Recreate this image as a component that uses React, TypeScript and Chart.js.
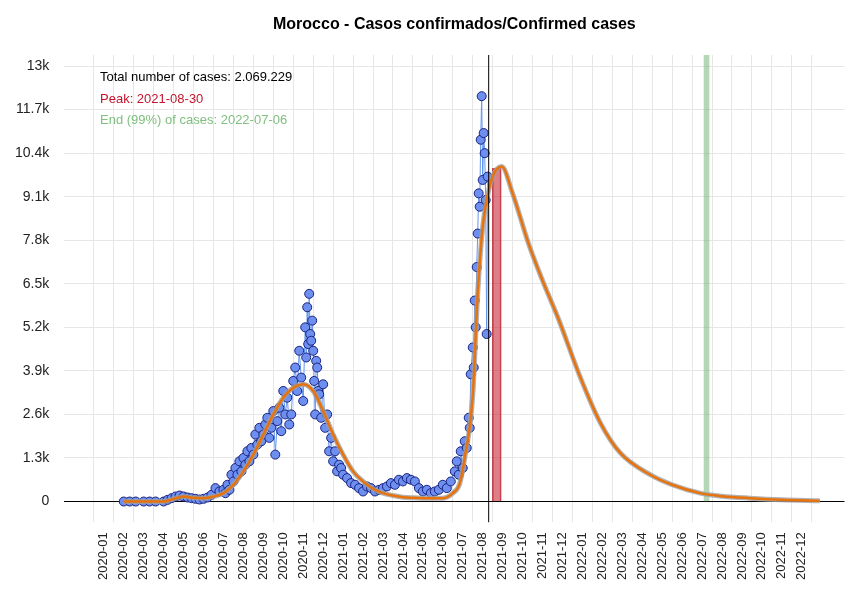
import { useEffect, useRef } from 'react';
import Chart from 'chart.js/auto';

// x values are months since 2020-01 (0 = 2020-01, 35 = 2022-12)
const monthLabels = [
  '2020-01', '2020-02', '2020-03', '2020-04', '2020-05', '2020-06', '2020-07', '2020-08', '2020-09', '2020-10', '2020-11', '2020-12',
  '2021-01', '2021-02', '2021-03', '2021-04', '2021-05', '2021-06', '2021-07', '2021-08', '2021-09', '2021-10', '2021-11', '2021-12',
  '2022-01', '2022-02', '2022-03', '2022-04', '2022-05', '2022-06', '2022-07', '2022-08', '2022-09', '2022-10', '2022-11', '2022-12',
];
const yTicks = [0, 1300, 2600, 3900, 5200, 6500, 7800, 9100, 10400, 11700, 13000];

const caseX = [
  1.0, 1.3, 1.6, 2.0, 2.3, 2.6, 3.0, 3.2, 3.4, 3.6, 3.8, 4.0, 4.2, 4.4, 4.6, 4.8, 5.0, 5.2, 5.4, 5.6, 5.8,
  6.0, 6.1, 6.2, 6.3, 6.4, 6.5, 6.6, 6.7, 6.8, 6.9, 7.0, 7.1, 7.2, 7.3, 7.4, 7.5, 7.6, 7.7, 7.8, 7.9,
  8.0, 8.1, 8.2, 8.3, 8.4, 8.5, 8.6, 8.7, 8.8, 8.9, 9.0, 9.1, 9.2, 9.3, 9.4, 9.5, 9.6, 9.7, 9.8, 9.9,
  10.0, 10.1, 10.15, 10.2, 10.25, 10.3, 10.35, 10.4, 10.45, 10.5, 10.55, 10.6, 10.65, 10.7, 10.75, 10.8, 10.9,
  11.0, 11.1, 11.2, 11.3, 11.4, 11.5, 11.6, 11.7, 11.8, 11.9, 12.0, 12.2, 12.4, 12.6, 12.8,
  13.0, 13.2, 13.4, 13.6, 13.8, 14.0, 14.2, 14.4, 14.6, 14.8, 15.0, 15.2, 15.4, 15.6, 15.8, 16.0, 16.2, 16.4, 16.6, 16.8,
  17.0, 17.2, 17.4, 17.6, 17.7, 17.8, 17.9, 18.0, 18.1, 18.2, 18.3, 18.35, 18.4, 18.5, 18.55, 18.6, 18.65, 18.7,
  18.75, 18.8, 18.85, 18.9, 18.95, 19.0, 19.05, 19.1, 19.15, 19.2, 19.25,
];
const caseY = [
  0, 0, 0, 0, 0, 0, 0, 50, 100, 150, 180, 150, 120, 100, 80, 60, 80, 120, 200, 400, 300,
  350, 250, 500, 350, 800, 600, 1000, 800, 1200, 900, 1300, 1100, 1500, 1200, 1600, 1400, 2000, 1700, 2200, 1800,
  2000, 2300, 2500, 1900, 2200, 2700, 1400, 2400, 2800, 2100, 3300, 2600, 3100, 2300, 2600, 3600, 4000, 3300, 4500, 3700,
  3000, 5200, 4300, 5800, 4700, 6200, 5000, 4800, 5400, 4500, 3600, 2600, 4200, 4000, 3300, 3200, 2500,
  3500, 2200, 2600, 1500, 1900, 1200, 1500, 900, 1100, 1000, 800, 700, 550, 500, 400,
  300, 450, 400, 300, 350, 400, 450, 550, 500, 650, 600, 700, 650, 600, 400, 300, 350, 250, 300, 350,
  500, 400, 600, 900, 1200, 800, 1500, 1000, 1800, 1600, 2500, 2200, 3800, 4600, 4000, 6000, 5200, 7000,
  8000, 9200, 8800, 10800, 12100, 9600, 11000, 10400, 9000, 5000, 9700,
];

const fitX = [
  1, 3, 3.5, 4, 4.5, 5, 5.5, 6, 6.5, 7, 7.5, 8, 8.5, 9, 9.5, 10, 10.5, 11, 11.5, 12, 12.5, 13, 13.5, 14, 14.5,
  15, 15.5, 16, 16.5, 17, 17.5, 17.85, 18.1, 18.5, 18.75, 19.0, 19.2, 19.5, 19.95, 20.5, 21.3, 22.0, 22.8,
  23.9, 24.9, 25.9, 27.4, 28.5, 29.9, 31.0, 32.4, 34.0, 35.9,
];
const fitY = [
  0, 0, 80, 150, 110, 100, 150, 250, 500, 900, 1400, 2000, 2600, 3100, 3400, 3500, 3300, 2700, 2000, 1400, 900, 600, 380, 250, 180,
  130, 110, 100, 100, 100, 250, 540, 1300, 3150, 6200, 8200, 9000, 9700, 10000, 9200, 7700, 6600, 5450,
  3700, 2350, 1450, 800, 500, 250, 160, 100, 50, 20,
];

const peakX = 19.93; // 2021-08-30
const peakY = 9950;
const endX = 30.1; // 2022-07-06
const todayX = 19.3;

const pairs = (xs: number[], ys: number[]) => xs.map((x, i) => ({ x, y: ys[i] }));

const textPlugin = {
  id: 'texts',
  afterDraw(chart: any) {
    const { ctx, chartArea } = chart;
    ctx.save();
    ctx.font = 'bold 16px "Liberation Sans", Arial, sans-serif';
    ctx.fillStyle = '#000';
    ctx.textAlign = 'center';
    ctx.textBaseline = 'middle';
    ctx.fillText('Morocco - Casos confirmados/Confirmed cases', (chartArea.left + chartArea.right) / 2, 25);
    ctx.font = '13px "Liberation Sans", Arial, sans-serif';
    ctx.textAlign = 'left';
    ctx.fillText('Total number of cases: 2.069.229', 100, 77);
    ctx.fillStyle = '#c4152c';
    ctx.fillText('Peak: 2021-08-30', 100, 99);
    ctx.fillStyle = '#7fbf7f';
    ctx.fillText('End (99%) of cases: 2022-07-06', 100, 120);
    ctx.restore();
  },
};

export default function App() {
  const ref = useRef<HTMLCanvasElement | null>(null);

  useEffect(() => {
    document.body.style.margin = '0';
    if (!ref.current) return;
    const chart = new Chart(ref.current, {
      type: 'line',
      data: {
        datasets: [
          {
            type: 'line',
            data: [{ x: todayX, y: -2000 }, { x: todayX, y: 20000 }],
            borderColor: '#000',
            borderWidth: 1,
            pointRadius: 0,
            order: 0,
          },
          {
            type: 'line',
            data: pairs(caseX, caseY),
            borderColor: '#6495ed',
            borderWidth: 1,
            pointRadius: 4.5,
            pointBackgroundColor: '#6d8ff0',
            pointBorderColor: '#1a2380',
            pointBorderWidth: 1,
            order: 4,
          },
          {
            type: 'bar',
            data: [{ x: peakX, y: peakY }],
            backgroundColor: 'rgba(200,40,55,0.6)',
            borderColor: 'rgba(190,30,45,0.8)',
            borderWidth: 1,
            barThickness: 9,
            order: 3,
          } as any,
          {
            type: 'bar',
            data: [{ x: endX, y: 13500 }],
            backgroundColor: 'rgba(110,175,110,0.5)',
            borderWidth: 0,
            barThickness: 5,
            order: 3,
          } as any,
          {
            type: 'line',
            data: pairs(fitX, fitY),
            borderColor: 'rgba(160,160,160,0.8)',
            borderWidth: 5,
            pointRadius: 0,
            cubicInterpolationMode: 'monotone',
            order: 2,
          },
          {
            type: 'line',
            data: pairs(fitX, fitY),
            borderColor: '#e8720c',
            borderWidth: 2.5,
            pointRadius: 0,
            cubicInterpolationMode: 'monotone',
            order: 1,
          },
        ],
      },
      options: {
        animation: false,
        responsive: false,
        layout: { padding: { top: 55, right: 0, bottom: 10, left: 0 } },
        plugins: { legend: { display: false }, tooltip: { enabled: false }, title: { display: false } },
        scales: {
          x: {
            type: 'linear',
            min: -1.44,
            max: 36.6,
            afterBuildTicks: (axis: any) => {
              axis.ticks = monthLabels.map((_, i) => ({ value: i }));
            },
            ticks: {
              minRotation: 90,
              maxRotation: 90,
              autoSkip: false,
              padding: 10,
              color: '#222',
              font: { family: '"Liberation Sans", Arial, sans-serif', size: 13 },
              callback: (v: any) => monthLabels[v] ?? '',
            },
            grid: { color: '#e6e6e6', drawTicks: false },
            border: { display: false },
          },
          y: {
            min: -620,
            max: 13330,
            afterBuildTicks: (axis: any) => {
              axis.ticks = yTicks.map((v) => ({ value: v }));
            },
            ticks: {
              padding: 15,
              color: '#222',
              font: { family: '"Liberation Sans", Arial, sans-serif', size: 14 },
              callback: (v: any) => (v === 0 ? '0' : `${+(v / 1000).toFixed(1)}k`),
            },
            grid: {
              color: (c: any) => (c.tick && c.tick.value === 0 ? '#000' : '#e6e6e6'),
              drawTicks: false,
            },
            border: { display: false },
          },
        },
      },
      plugins: [textPlugin],
    });
    return () => chart.destroy();
  }, []);

  return (
    <div style={{ width: 850, height: 600, background: '#fff' }}>
      <canvas ref={ref} width={850} height={600} />
    </div>
  );
}
